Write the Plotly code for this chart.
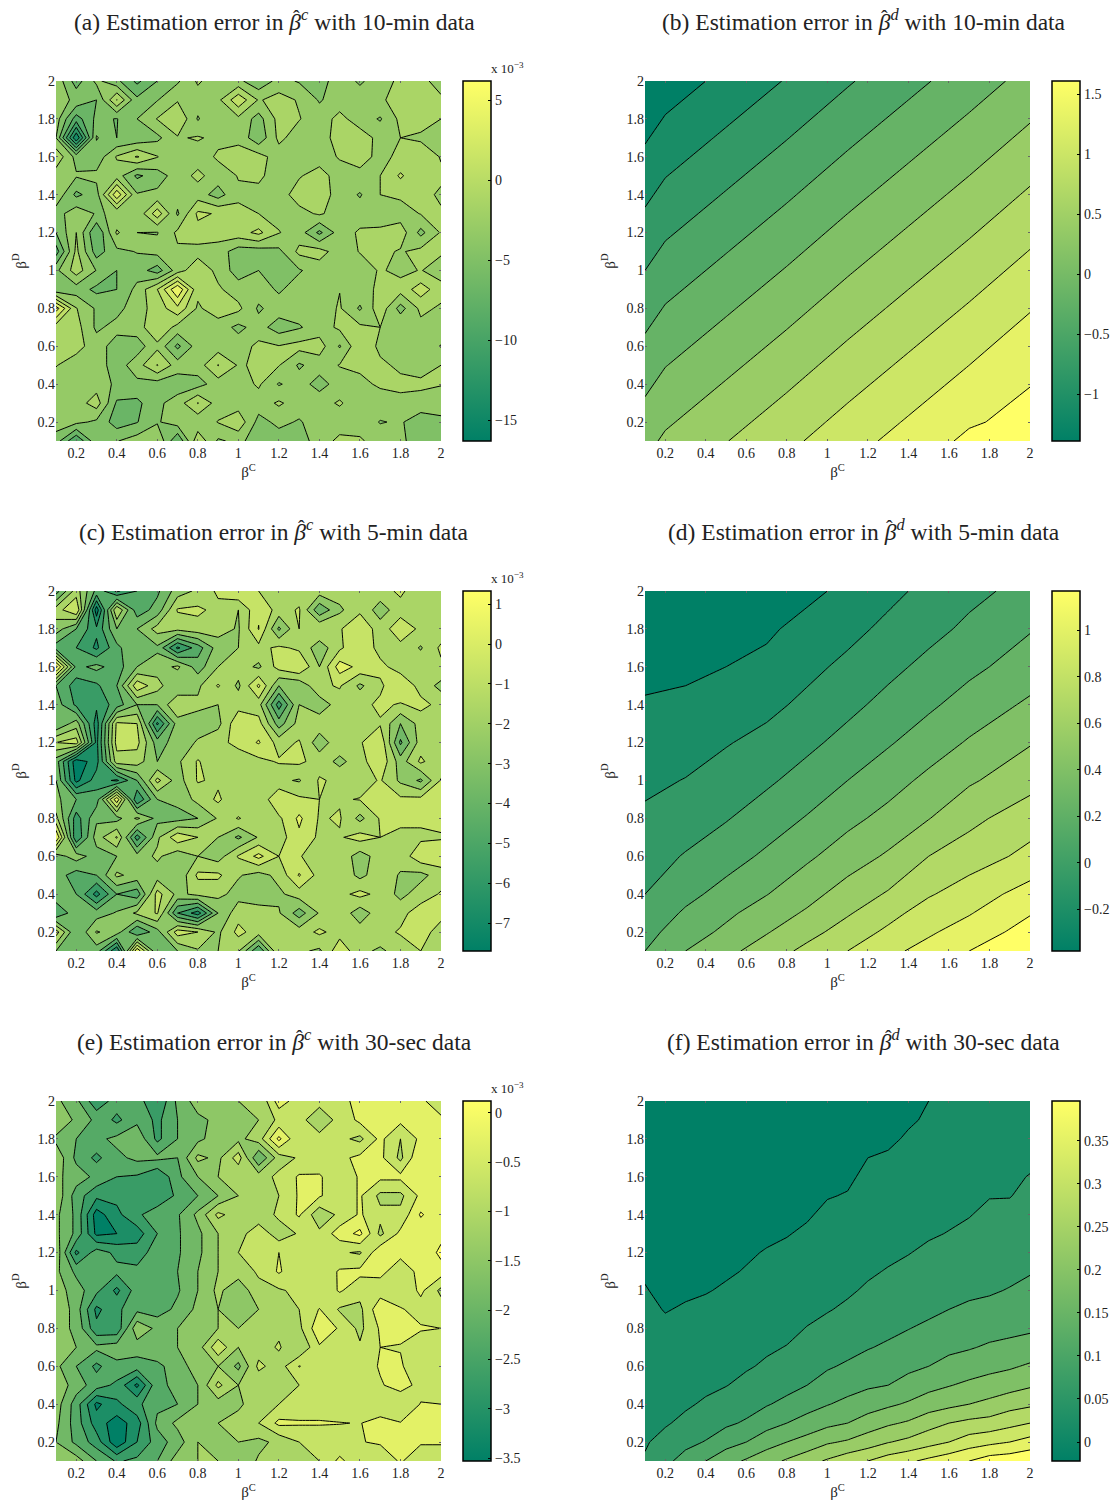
import plotly.graph_objects as go

W, H = 1112, 1503

beta_c = [0.1,0.2,0.3,0.4,0.5,0.6,0.7,0.8,0.9,1.0,1.1,1.2,1.3,1.4,1.5,1.6,1.7,1.8,1.9,2.0]
beta_d = [2.0,1.9,1.8,1.7,1.6,1.5,1.4,1.3,1.2,1.1,1.0,0.9,0.8,0.7,0.6,0.5,0.4,0.3,0.2,0.1]

z_a = [
[-2.5,-7,-3.5,-5.5,-8.5,-6,-4.3,-1.7,-3.2,-3.5,-5.5,-3.3,-4.2,-4.8,-3,-4.3,-3,-1.5,-1.3,-3],
[-3,-4.5,-6,0.1,-5.5,-4.1,-2.2,-3,-2.5,1.5,-2.2,-1.2,-2.2,-4.2,-3,-3,-2.3,-1.2,-0.1,-1.6],
[-3,-9,-5.5,-6.1,-4,-1.9,-0.1,-4.2,-2,-2.5,-4.8,-1.3,-1.9,-3,-1.4,-3,-4.2,-1.5,-0.8,-2],
[-4,-15.8,-3.8,-6,-5.6,-4.5,-2.2,-1.8,-2.5,-2.5,-5.5,-1.5,-3,-3,-1.1,-1,-2.6,-2,-2.5,-2.9],
[-0.5,-4.7,-5.3,-1.8,0.2,-1.9,-4,-3,-1.7,-1.2,-1.2,-3,-3,-3,-1.8,-1.3,-2.5,-1.6,-0.1,-2.2],
[-3.1,-3.8,-3.5,-3,-6.4,-5,-3,-1.5,-3,-1.9,-1.6,-3,-2.2,-1.1,-3,-2.5,-2,0.3,-1.6,-1.5],
[-2.5,-6.5,-4.8,3.5,-3.8,-3.5,-3,-3,-4.9,-2.3,-2.6,-3,-1,-1,-2.8,-4.2,-2,-1.6,-1.2,-2.4],
[-5,-2.6,-4.2,-3.7,-3.6,1.2,-4.3,0.4,-0.2,-1.6,-2,-2.6,-2.7,-1.7,-3,-3,-3,-3,-1.9,-1.7],
[-6,-2,-8,-1.7,-4,-4.1,-1.6,-0.7,-1,-0.8,0.5,-1.9,-3,-6.5,-3,-1.7,-1.6,-0.9,-4.6,-1.8],
[-9,-1.5,-7,-4.5,-3.9,-3.3,-2.3,-2.8,-3,-5,-5,-4.5,-1.5,-1.2,-3,-1.9,-1.5,-2.2,-1.4,-1.7],
[-4.5,-1,-4.1,-6,-5,-7,-3,-0.5,-2.6,-5,-4,-5,-4.2,-3,-3,-3,-1.8,-2.5,-1.9,-3],
[-5.5,-5,-6.5,-6,-3.4,0,5.9,-1.5,-1.7,-3,-3,-4.3,-3,-3,-2.05,-2.6,-1.7,-1.2,1,-1.2],
[5,-1.9,-4.3,-4.7,-2.8,-1.2,1.5,-2.3,-0.9,-1.5,-4.3,-3,-3,-3,-1.8,-4.3,-0.7,-4.8,-1.5,-2.3],
[-1.1,-1.2,-4.4,-3.3,-3,-0.2,-2.7,-3,-3,-4.5,-3.2,-5,-4.2,-3,-1.6,-1.6,-2,-2.1,-2.6,-2.8],
[-0.8,-1.3,-3,-5,-5,-2.5,-6.5,-3,-3,-3,-1.5,-1.9,-1.3,-1.1,-4.2,-0.3,-2.5,-3,-3,-4.1],
[-1.9,-3,-3,-5,-2.9,0.1,-3,-3,0.1,-2.2,-1.7,-1.9,-4.3,-3,-1.9,-1.6,-1.6,-2.4,-3,-2],
[-3,-3,-2.9,-4.4,-4.5,-4.9,-5.2,-4.8,-3,-3,-1.7,-4.2,-3,-4.9,-3,-2.5,-1.7,-1.5,-1.5,-1.9],
[-3,-3,-1,-6.3,-6.5,-4.5,-3,0.1,-3,-3,-3,-1.7,-3,-2.6,-1.8,-3,-3,-2.6,-3,-3],
[-3,-3.5,-4.4,-7,-6.1,-4.2,-3,-3.5,-1.9,-0.6,-4.7,-3.5,-4.2,-3,-3,-3,-4.1,-3.8,-5,-4.5],
[-5,-10,-4.5,-4.1,-3,-2.1,-8,-0.5,-4.3,-3.5,-5,-5,-5,-3,-1.5,-1.7,-3,-3.8,-4.5,-5],
]

z_c = [
[-4.5,-1.5,-4.3,-6.2,-5,-4.2,-2.5,-1.8,-0.8,-0.1,-1,-1.2,-1.5,-1.5,-1.5,-1.1,-1.4,-0.8,-1.7,-1.7],
[-1.5,0,-7.6,-1,-4.6,-3.6,-0.9,-0.8,-1.3,-2,-0.2,-1.4,-0.9,-3.8,-2.2,-1.2,-2.5,-1.4,-1.6,-1.7],
[-2.5,-4,-5.8,-3,-3,-1.6,-1.7,-1.4,-1.6,-2.1,0.05,-3.2,-1,-1,-1.1,-0.2,-1.5,-0.4,-1.2,-1.7],
[-4.5,-5,-6.2,-4.3,-3,-3.2,-6.2,-4.5,-2.5,-2,-1.3,-0.8,-1.2,-2.6,-1.2,-0.1,-1.4,-1.3,-2.1,-0.8],
[1.3,-4.3,-3.7,-4.5,-3,-2.5,-1.8,-3.5,-2,-1.5,-2.2,-0.6,0,-2,0.5,-0.3,-0.7,-1.5,-1.3,-1.2],
[-4,-5.5,-5.2,-4,-0.3,-1.6,-3,-2.2,-0.9,-2.2,0.2,-3,-2.8,-1.2,-0.9,-2.2,-1.2,-0.1,-1.4,-2.3],
[-3.5,-5.2,-5.8,-4.5,-3,-3,-1,-1.8,-2,-1.4,-1.6,-5.5,-2,-2.6,-1.5,-1.3,-0.8,-1.1,-0.7,-1.3],
[-4,-2.5,-6.5,-0.8,-1,-6.2,-2.5,-2.4,-2.3,-0.2,-0.6,-3.5,-1.6,-1.4,-1.4,-1.5,-1.1,-3,-1.6,-1.1],
[-1,-0.5,-6.3,-0.6,-0.7,-3.5,-2.5,-1.9,-1.3,-0.7,0.1,-1.4,-0.9,-2.6,-1.3,-1.1,-0.2,-4.2,-1.5,-1.3],
[-3.5,-7.7,-6.4,-1.5,-1.5,-3,-2.2,-0.9,-1.8,-1.6,-1.3,-0.9,-0.8,-1.4,-2.3,-1.4,-0.2,-2.5,-0.8,-1.8],
[-3,-7.3,-5.5,-6.2,-4,-0.7,-2.5,-0.9,-1.2,-1.8,-1.8,-1.8,-2.1,-0.9,-1.2,-1.5,-0.9,-2.2,-3.2,-0.9],
[-2.7,-4,-4.5,0.7,-6,-3,-2.7,-1.7,-0.8,-2,-1.9,0,-0.8,-1,-1.1,-0.95,-0.8,-0.8,-0.7,-0.9],
[-1.7,-5.5,-3.2,-3.4,-1.8,-3.3,-3.4,-3,-1.9,-0.9,-1.8,-1.2,0.2,-1.1,-0.9,-2.3,-0.9,-0.8,-0.8,-0.7],
[1,-5.9,-2.5,-0.9,-5.5,-2.2,-0.3,-1,-2,-3.2,-1.9,-1.5,-0.2,-1.2,-1.1,-0.6,-1,-1.2,-1.2,-1.1],
[-3.5,-2.5,-3.5,-3,-2.6,-1.8,-2.7,-2,-2.5,-0.9,0.3,-1,-0.9,-1.7,-1.3,-2.5,-1.5,-1.6,-0.3,-0.3],
[-3.5,-4.5,-4,-1.8,-2.4,-2.5,-2.9,-0.8,-0.8,-1.9,-2.4,-1.7,0.1,-1.4,-1.2,-2.3,-1.4,-2.1,-2.3,-1.5],
[-3.2,-4,-6.4,-4,-4.6,-0.6,-2.3,-1.7,-1.7,-2.4,-2.4,-2.2,-1.5,-1.2,-1.3,-0.7,-1.3,-2.3,-1.5,-0.9],
[-5,-3.3,-3.5,-2.9,-1.8,-0.9,-5,-6.5,-3,-1.4,-1.7,-1.9,-3.5,-1.9,-1.3,-2.6,-1.4,-1.3,-0.5,-0.7],
[-0.5,-4,-1.9,-2.5,-5,-3.4,-0.5,-1,-2.2,-0.7,-1.5,-1.5,-1.5,-0.8,-1.4,-1.5,-1.3,-0.9,-0.6,-1.4],
[-3,-3,-3.5,-7,0.8,-4,-3,-2.1,-2,-1.9,-5,-1,-1.8,-2.2,-0.3,-1.7,-2.2,-1.5,-1,-1.5],
]

z_e = [
[-1.5,-1.9,-2.7,-2.2,-2.2,-2.8,-1.9,-1.4,-1.3,-1.2,-1.2,-0.2,-0.6,-0.7,-0.5,-0.3,-0.3,-0.3,-0.3,-0.7],
[-1.2,-1.7,-2.1,-2.5,-2.1,-2.5,-2,-1.7,-1.5,-1.3,-1.2,-0.7,-0.7,-1,-0.7,-0.3,-0.3,-0.3,-0.3,-0.3],
[-1.7,-2,-2.1,-1.9,-1.7,-2.5,-2,-1.7,-1.4,-1.3,-1,0.1,-0.8,-0.7,-0.7,-0.9,-0.3,-0.8,-0.3,-0.3],
[-1.3,-2.1,-2.5,-2.1,-1.9,-1.9,-2,-1.1,-1.3,-0.6,-2,-1,-0.75,-0.7,-0.5,-0.3,-0.3,-0.9,0,-0.2],
[-1.5,-1.8,-2.1,-2.4,-2.45,-2.8,-2.1,-1.6,-1.2,-1.15,-1,-0.7,-0.35,-0.35,-0.7,-0.35,-0.3,-0.3,-0.2,-0.3],
[-1.3,-2.2,-2.7,-2.7,-2.5,-2.8,-2.3,-2,-1.6,-1.2,-1.2,-0.8,-0.35,-0.35,-0.7,-0.35,-0.9,-0.9,-0.3,-0.3],
[-1.5,-2.1,-3.4,-2.9,-2.5,-2.1,-2.05,-1.5,-0.7,-1,-1.1,-0.7,-0.35,-1.1,-0.7,-0.35,-0.7,-0.7,0.05,-0.3],
[-1.5,-2.1,-3.3,-3.2,-3,-2.4,-2.05,-1.7,-1.2,-1,-0.5,-1.05,-0.75,-0.7,-0.2,0.1,-0.9,-0.3,-0.3,-0.15],
[-1.3,-2.9,-2.2,-2.5,-2.6,-2.2,-2.05,-1.7,-1.2,-0.8,-0.7,-0.4,-0.7,-0.7,-0.75,-0.85,-0.1,-0.3,-0.4,0.12],
[-1.5,-2.1,-2.4,-2.3,-2.3,-2.1,-2,-1.6,-1.2,-1,-0.75,-0.35,-0.7,-0.7,-0.35,-0.3,-0.3,-0.6,-0.3,-0.2],
[-1.4,-1.8,-2.3,-2.9,-2.2,-2.2,-2.05,-1.6,-1.1,-1.5,-0.9,-0.85,-0.7,-0.75,-0.35,-0.65,-0.6,-0.8,-0.3,-0.9],
[-1.2,-1.8,-2.9,-2.5,-2.1,-2.2,-1.9,-1.5,-1.2,-1.25,-1.2,-0.9,-0.8,-0.38,-0.85,-0.9,-0.1,-0.35,-0.6,-0.6],
[-1.4,-1.7,-2.7,-2.7,-1.3,-1.7,-1.6,-1.6,-1.2,-1.2,-1.1,-0.9,-0.9,-0.1,-0.45,-0.9,-0.35,-0.3,-0.35,-0.4],
[-1.4,-1.6,-1.9,-1.8,-1.8,-1.7,-1.6,-1.4,-0.5,-1.2,-1,-0.75,-1.2,-0.45,-0.7,-0.75,-0.4,-0.42,-0.7,-0.7],
[-1.5,-2,-2.5,-2.1,-2.2,-2.1,-1.8,-1.4,-1.2,-1.7,-0.7,-1,-0.38,-0.7,-0.7,-0.7,-0.35,-0.35,-0.7,-0.8],
[-1.3,-1.8,-2.2,-2.5,-3.3,-2.1,-1.9,-1.6,-0.7,-1.2,-1.1,-1,-0.8,-0.7,-0.7,-0.7,-0.45,-0.2,-0.55,-0.7],
[-1.4,-2.2,-3.3,-2.9,-2.5,-2.1,-2,-1.6,-1.4,-1.3,-0.9,-0.8,-0.7,-0.7,-0.8,-0.6,-0.8,-0.8,-0.38,-0.4],
[-1.5,-2.2,-3,-3.4,-3,-1.9,-1.5,-1.5,-1.2,-1,-0.8,-0.3,-0.35,-0.35,-0.38,-0.42,-0.2,-0.38,-0.35,-0.3],
[-1.6,-2.1,-2.6,-3.5,-2.8,-2.2,-1.8,-1.2,-1.5,-1.2,-1.3,-1.1,-0.8,-0.8,-0.7,-0.42,-0.35,-0.4,-0.35,-0.35],
[-1.6,-1.4,-2,-2.45,-2.3,-2,-1.4,-1.2,-1.2,-1.5,-1.15,-1.15,-0.9,-0.8,-0.3,-0.7,-0.7,-0.35,-0.7,-0.7],
]

bx = [0.1,0.2,0.5,0.8,1.1,1.4,1.7,2.0]
by = [2.0,1.7,1.4,1.1,0.8,0.5,0.2,0.1]
z_b = [
[-1.39,-1.36,-1.12,-0.88,-0.63,-0.39,-0.15,0.10],
[-1.23,-1.09,-0.85,-0.61,-0.36,-0.12,0.12,0.37],
[-0.96,-0.82,-0.58,-0.34,-0.09,0.15,0.39,0.64],
[-0.69,-0.55,-0.31,-0.07,0.18,0.42,0.66,0.91],
[-0.42,-0.28,-0.04,0.20,0.45,0.69,0.93,1.18],
[-0.15,-0.01,0.23,0.47,0.72,0.96,1.20,1.45],
[0.12,0.26,0.50,0.74,0.99,1.23,1.47,1.58],
[0.21,0.35,0.59,0.83,1.08,1.32,1.56,1.62],
]

dx = [0.1,0.3,0.5,0.7,0.9,1.1,1.3,1.5,1.7,2.0]
dy = [2.0,1.8,1.6,1.4,1.2,1.0,0.8,0.6,0.4,0.3,0.2,0.1]
z_d = [
[-0.37,-0.36,-0.35,-0.34,-0.33,-0.27,-0.19,-0.11,-0.04,0.05],
[-0.35,-0.34,-0.33,-0.32,-0.26,-0.195,-0.115,-0.045,0.03,0.14],
[-0.33,-0.32,-0.30,-0.27,-0.19,-0.115,-0.04,0.04,0.115,0.22],
[-0.29,-0.28,-0.24,-0.19,-0.115,-0.04,0.045,0.125,0.21,0.325],
[-0.24,-0.21,-0.16,-0.105,-0.035,0.05,0.135,0.225,0.315,0.44],
[-0.18,-0.145,-0.085,-0.025,0.06,0.15,0.24,0.335,0.43,0.545],
[-0.125,-0.07,-0.01,0.075,0.16,0.26,0.345,0.445,0.56,0.685],
[-0.06,0.01,0.09,0.175,0.275,0.375,0.47,0.60,0.675,0.79],
[0.0,0.11,0.20,0.295,0.40,0.515,0.615,0.735,0.825,0.96],
[0.05,0.17,0.27,0.37,0.47,0.585,0.70,0.82,0.89,1.04],
[0.10,0.23,0.33,0.44,0.55,0.665,0.78,0.88,0.965,1.11],
[0.15,0.30,0.41,0.52,0.64,0.75,0.865,0.95,1.05,1.17],
]

f_columns = [
[-.02,-.019,-.018,-.017,-.015,-.013,-.011,-.009,-.006,-.002,.001,.005,.009,.013,.018,.022,.027,.032,.037,.043],
[-.019,-.018,-.017,-.016,-.015,-.014,-.012,-.01,-.008,-.006,-.004,-.001,.004,.011,.018,.025,.031,.037,.05,.071],
[-.018,-.017,-.016,-.015,-.014,-.013,-.011,-.01,-.008,-.006,-.003,.002,.009,.016,.022,.029,.036,.047,.07,.094],
[-.017,-.016,-.015,-.014,-.013,-.012,-.01,-.008,-.006,-.004,-.001,.004,.012,.019,.027,.034,.044,.062,.082,.12],
[-.016,-.015,-.014,-.013,-.012,-.011,-.009,-.007,-.004,-.002,.002,.009,.016,.023,.031,.039,.053,.073,.105,.145],
[-.015,-.014,-.013,-.012,-.011,-.009,-.007,-.004,-.002,.001,.008,.015,.023,.03,.037,.048,.064,.085,.12,.165],
[-.014,-.013,-.012,-.011,-.01,-.008,-.006,-.003,.001,.007,.014,.021,.028,.036,.044,.058,.077,.105,.143,.185],
[-.013,-.012,-.011,-.01,-.008,-.006,-.004,-.001,.004,.011,.019,.027,.033,.041,.053,.068,.09,.12,.16,.205],
[-.012,-.011,-.01,-.009,-.007,-.005,-.002,.003,.009,.016,.023,.033,.041,.053,.066,.08,.104,.136,.175,.225],
[-.011,-.01,-.009,-.007,-.005,-.001,.004,.009,.015,.022,.03,.038,.049,.061,.076,.095,.118,.15,.195,.245],
[-.01,-.009,-.008,-.006,-.003,.001,.008,.014,.02,.028,.036,.045,.056,.069,.085,.105,.13,.16,.205,.265],
[-.009,-.007,-.005,0,.004,.009,.015,.021,.028,.036,.044,.053,.066,.078,.094,.115,.14,.18,.22,.28],
[-.008,-.006,-.003,.002,.008,.013,.02,.027,.034,.042,.05,.06,.072,.085,.102,.12,.153,.194,.238,.30],
[-.006,-.002,.002,.007,.012,.018,.026,.032,.039,.047,.056,.066,.079,.094,.112,.133,.165,.205,.25,.313],
[0,.002,.007,.012,.017,.023,.029,.037,.045,.053,.062,.072,.087,.103,.12,.148,.18,.225,.265,.33],
[.005,.008,.012,.016,.021,.027,.035,.041,.05,.058,.068,.08,.093,.113,.13,.158,.19,.24,.28,.345],
[.008,.012,.016,.02,.025,.031,.039,.045,.053,.062,.073,.086,.1,.117,.14,.168,.2,.25,.30,.36],
[.01,.014,.018,.022,.03,.039,.045,.051,.059,.067,.076,.09,.106,.125,.148,.177,.21,.255,.31,.38],
[.013,.017,.021,.026,.032,.039,.047,.054,.062,.071,.082,.093,.11,.13,.155,.184,.225,.268,.32,.385],
[.016,.02,.024,.03,.042,.047,.054,.062,.069,.078,.088,.1,.114,.137,.165,.195,.233,.28,.335,.395],
]
z_f = [list(r) for r in zip(*f_columns)]

titles = [
 "(a) Estimation error in <i>β</i><sup><i>c</i></sup> with 10-min data",
 "(b) Estimation error in <i>β</i><sup><i>d</i></sup> with 10-min data",
 "(c) Estimation error in <i>β</i><sup><i>c</i></sup> with 5-min data",
 "(d) Estimation error in <i>β</i><sup><i>d</i></sup> with 5-min data",
 "(e) Estimation error in <i>β</i><sup><i>c</i></sup> with 30-sec data",
 "(f) Estimation error in <i>β</i><sup><i>d</i></sup> with 30-sec data",
]
title_cx = [274.5, 863.5, 274, 863.5, 274, 863]
hat_cx = [296, 884, 301, 889, 299, 888.5]
level_start = [-16, -1.2, -7, -0.3, -3.2, 0.0]
level_end   = [6, 1.5, 1, 1.05, 0.0, 0.36]
level_step  = [2, 0.3, 1, 0.15, 0.4, 0.04]
cb_min = [-16.3, -1.39, -7.7, -0.38, -3.53, -0.022]
cb_max = [6.2, 1.61, 1.33, 1.17, 0.12, 0.396]
cb_ticks = [
 [-15,-10,-5,0,5],
 [-1,-0.5,0,0.5,1,1.5],
 [-7,-6,-5,-4,-3,-2,-1,0,1],
 [-0.2,0,0.2,0.4,0.6,0.8,1],
 [-3.5,-3,-2.5,-2,-1.5,-1,-0.5,0],
 [0,0.05,0.1,0.15,0.2,0.25,0.3,0.35],
]
axis_ticks = [0.2,0.4,0.6,0.8,1,1.2,1.4,1.6,1.8,2]
axis_ticktext = ["0.2","0.4","0.6","0.8","1","1.2","1.4","1.6","1.8","2"]

panels = [
 (beta_c, beta_d, z_a), (bx, by, z_b),
 (beta_c, beta_d, z_c), (dx, dy, z_d),
 (beta_c, beta_d, z_e), (beta_c, beta_d, z_f),
]

FONT = "Liberation Serif"
SUMMER = [[0, "rgb(0,128,102)"], [1, "rgb(255,255,102)"]]
COL_L = [56, 645]
ROW_T = [81, 591, 1101]
PW, PH = 385, 360
CB_OFF = 407
CB_W = 28

def fmt(v):
    return f"{v:g}".replace("-", "−")

fig = go.Figure()
layout = {}
annotations = []
for i, (xs, ys, z) in enumerate(panels):
    col = i % 2
    row = i // 2
    l, t = COL_L[col], ROW_T[row]
    n = "" if i == 0 else str(i + 1)
    ax = dict(
        domain=[l / W, (l + PW) / W], range=[0.1, 2], anchor="y" + n,
        tickmode="array", tickvals=axis_ticks, ticktext=axis_ticktext,
        ticks="inside", ticklen=2, tickcolor="#666", tickwidth=1, mirror="ticks",
        showgrid=False, zeroline=False, showline=False, ticklabelstandoff=2,
        tickfont=dict(family=FONT, size=14, color="#222"),
        title=dict(text="β<sup>C</sup>", font=dict(family=FONT, size=15, color="#222"), standoff=6),
    )
    ay = dict(
        domain=[1 - (t + PH) / H, 1 - t / H], range=[0.1, 2], anchor="x" + n,
        tickmode="array", tickvals=axis_ticks, ticktext=axis_ticktext,
        ticks="inside", ticklen=2, tickcolor="#666", tickwidth=1, mirror="ticks",
        showgrid=False, zeroline=False, showline=False,
        tickfont=dict(family=FONT, size=14, color="#222"),
        title=dict(text="β<sup>D</sup>", font=dict(family=FONT, size=15, color="#222"), standoff=7),
    )
    layout["xaxis" + n] = ax
    layout["yaxis" + n] = ay
    fig.add_trace(go.Contour(
        x=xs, y=list(reversed(ys)), z=list(reversed(z)),
        xaxis="x" + n, yaxis="y" + n,
        colorscale=SUMMER, showscale=False, autocontour=False,
        contours=dict(start=level_start[i], end=level_end[i], size=level_step[i],
                      coloring="fill", showlines=True),
        line=dict(color="black", width=1, smoothing=0),
        hoverinfo="skip",
    ))
    fig.add_trace(go.Scatter(
        x=[None, None], y=[None, None], mode="markers", xaxis="x" + n, yaxis="y" + n,
        showlegend=False, hoverinfo="skip",
        marker=dict(
            color=[cb_min[i], cb_max[i]], cmin=cb_min[i], cmax=cb_max[i],
            colorscale=SUMMER, showscale=True,
            colorbar=dict(
                x=(l + CB_OFF) / W, xanchor="left", xpad=0, ypad=0,
                y=1 - (t + PH / 2) / H, yanchor="middle",
                thickness=CB_W, thicknessmode="pixels",
                len=PH / H, lenmode="fraction",
                outlinecolor="black", outlinewidth=1.5,
                tickmode="array", tickvals=cb_ticks[i],
                ticktext=[fmt(v) for v in cb_ticks[i]],
                ticks="inside", ticklen=3, tickcolor="black", tickwidth=1,
                tickfont=dict(family=FONT, size=14, color="#222"),
            ),
        ),
    ))
    annotations.append(dict(
        text=titles[i], xref="paper", yref="paper", showarrow=False,
        x=title_cx[i] / W, y=1 - (t - 61) / H,
        xanchor="center", yanchor="middle",
        font=dict(family=FONT, size=23.5, color="#222"),
    ))
    annotations.append(dict(
        text="ˆ", xref="paper", yref="paper", showarrow=False,
        x=hat_cx[i] / W, y=1 - (t - 63) / H,
        xanchor="center", yanchor="middle",
        font=dict(family=FONT, size=20, color="#222"),
    ))
    if col == 0:
        annotations.append(dict(
            text="x 10<sup>−3</sup>", xref="paper", yref="paper", showarrow=False,
            x=(l + CB_OFF + 26) / W, y=1 - (t - 13) / H,
            xanchor="left", yanchor="middle",
            font=dict(family=FONT, size=13, color="#222"),
        ))

fig.update_layout(
    width=W, height=H, margin=dict(l=0, r=0, t=0, b=0, autoexpand=False),
    paper_bgcolor="white", plot_bgcolor="white", showlegend=False,
    annotations=annotations, **layout,
)
fig.write_html("out.html", post_script="document.body.style.margin='0';document.body.style.overflow='hidden';",
               config={"displayModeBar": False})
